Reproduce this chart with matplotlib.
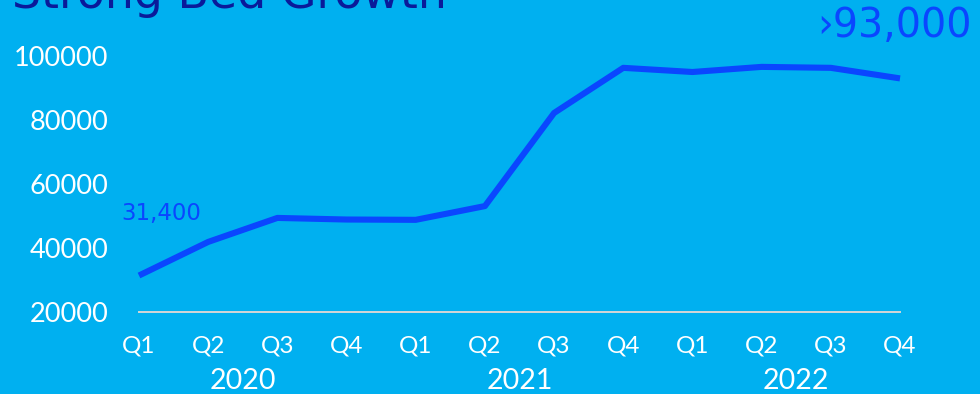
import matplotlib.pyplot as plt

# bed count per quarter, 2020-2022
quarters = ['Q1', 'Q2', 'Q3', 'Q4'] * 3
years = ['2020', '2021', '2022']
beds = [31400, 41900, 49400, 48900, 48800, 53100,
        82200, 96300, 95000, 96600, 96300, 93000]
yticks = [20000, 40000, 60000, 80000, 100000]

bg = '#00B0F0'
line_col = '#0A46FF'

plt.rcParams['font.family'] = ['Lato', 'DejaVu Sans']

fig = plt.figure(figsize=(9.8, 3.94), dpi=100, facecolor=bg)
ax = fig.add_axes([139 / 980, 1 - 312 / 394, (900 - 139) / 980, (312 - 56) / 394])
ax.set_facecolor(bg)

x = list(range(len(beds)))
ax.plot(x, beds, color=line_col, lw=4.4, solid_capstyle='butt', clip_on=False, zorder=3)

ax.set_xlim(0, len(beds) - 1)
ax.set_ylim(20000, 100000)

for s in ['top', 'right', 'left']:
    ax.spines[s].set_visible(False)
ax.spines['bottom'].set_color('#D6D6D6')
ax.spines['bottom'].set_linewidth(1.4)

ax.set_yticks(yticks)
ax.set_yticklabels([str(v) for v in yticks])
ax.set_xticks(x)
ax.set_xticklabels(quarters)
ax.tick_params(axis='y', length=0, pad=22, labelsize=19.5, labelcolor='white')
ax.tick_params(axis='x', length=0, pad=17, labelsize=17.5, labelcolor='white')

# year labels under each group of quarters
for i, yr in enumerate(years):
    ax.text(i * 4 + 1.5, -0.27, yr, transform=ax.get_xaxis_transform(),
            ha='center', va='center', fontsize=20.5, color='white')

# first and last value callouts
ax.annotate('31,400', (0, beds[0]), xytext=(-18, 62), textcoords='offset pixels',
            fontsize=16.5, color=line_col, ha='left', va='center', family='DejaVu Sans')
fig.text(972 / 980, 1 - 26 / 394, '\u203a93,000', fontsize=28.5, color=line_col,
         ha='right', va='center', family='DejaVu Sans')

# title, pushed partly off the top edge
fig.text(447 / 980, 1 - 8 / 394, 'Strong Bed Growth', fontsize=33, color='#0A1A9A',
         ha='right', va='baseline', family='DejaVu Sans')

fig.savefig('out.png', dpi=100, facecolor=bg)
